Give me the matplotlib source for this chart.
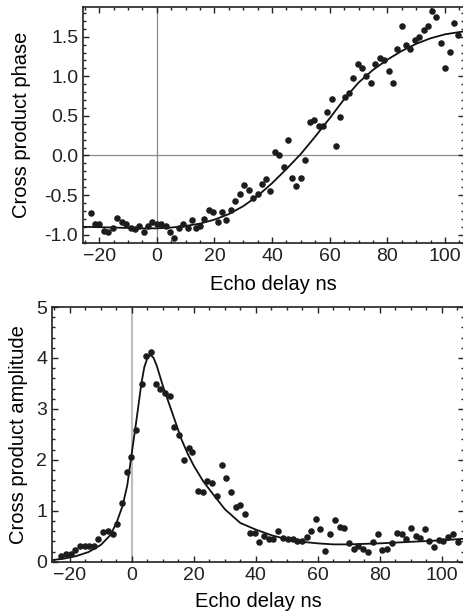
import numpy as np
import matplotlib
matplotlib.use("Agg")
from matplotlib import pyplot as plt
from matplotlib.ticker import MultipleLocator

plt.rcParams['font.family'] = ['Liberation Sans', 'DejaVu Sans']

# ---- phase panel: measured points ----
phase_x = [-22.8, -21.4, -19.9, -18.4, -16.8, -15.3, -13.7, -12.1, -10.6, -9.0,
           -7.5, -6.0, -4.5, -2.9, -1.5, 0.1, 1.6, 3.1, 4.6, 5.9,
           7.6, 9.1, 10.8, 12.1, 13.5, 15.1, 16.5, 18.1, 19.6, 21.3,
           22.8, 24.1, 25.8, 27.2, 28.8, 30.3, 31.9, 33.5, 35.0, 36.4,
           37.8, 39.4, 40.9, 42.5, 44.1, 45.6, 47.0, 48.3, 49.9, 51.4,
           53.3, 54.6, 56.4, 57.6, 59.0, 60.7, 62.1, 63.7, 65.2, 66.7,
           68.1, 69.8, 71.3, 72.7, 74.3, 75.8, 77.3, 78.8, 80.6, 82.0,
           83.2, 85.0, 86.4, 88.0, 89.5, 91.1, 92.6, 94.0, 95.5, 97.0,
           98.6, 100.0, 101.7, 103.0, 104.4]
phase_y = [-0.73, -0.86, -0.87, -0.95, -0.97, -0.92, -0.79, -0.84, -0.86, -0.91,
           -0.93, -0.89, -0.97, -0.89, -0.84, -0.86, -0.86, -0.89, -0.97, -1.04,
           -0.92, -0.86, -0.92, -0.82, -0.91, -0.89, -0.80, -0.69, -0.71, -0.84,
           -0.71, -0.82, -0.69, -0.57, -0.49, -0.37, -0.43, -0.54, -0.49, -0.36,
           -0.30, -0.45, 0.05, 0.01, -0.15, 0.20, -0.28, -0.39, -0.28, -0.06,
           0.42, 0.45, 0.37, 0.37, 0.55, 0.71, 0.12, 0.48, 0.74, 0.79,
           0.98, 1.15, 1.10, 1.01, 0.92, 1.15, 1.23, 1.21, 1.07, 0.91,
           1.35, 1.64, 1.40, 1.35, 1.46, 1.49, 1.59, 1.64, 1.83, 1.75,
           1.42, 1.11, 1.31, 1.67, 1.52]

# fitted curve
phase_fit_x = [-26, -20, -15, -10, -5, 0, 5, 10, 15, 20, 25, 30, 35, 40, 45,
               50, 55, 60, 65, 70, 75, 80, 85, 90, 95, 100, 107]
phase_fit_y = [-0.90, -0.905, -0.91, -0.915, -0.92, -0.92, -0.91, -0.89, -0.86,
               -0.81, -0.74, -0.64, -0.51, -0.35, -0.17, 0.02, 0.24, 0.47, 0.71,
               0.92, 1.08, 1.21, 1.32, 1.41, 1.48, 1.53, 1.57]

# ---- amplitude panel: measured points ----
amp_x = [-23.0, -21.4, -19.8, -18.3, -16.8, -15.2, -13.8, -12.3, -10.9, -9.3,
         -7.7, -6.2, -4.7, -3.1, -1.7, -0.2, 1.4, 3.1, 4.4, 6.0,
         7.7, 9.1, 10.8, 12.2, 13.6, 15.2, 16.7, 18.3, 19.5, 21.2,
         22.8, 24.3, 25.9, 27.4, 29.1, 30.4, 32.0, 33.7, 35.0, 36.5,
         38.2, 39.8, 41.1, 42.6, 44.2, 45.6, 47.2, 48.8, 50.3, 51.9,
         53.4, 55.0, 56.4, 57.9, 59.5, 60.8, 62.3, 63.9, 65.6, 67.1,
         68.6, 70.2, 71.6, 73.1, 74.7, 76.2, 77.7, 79.3, 80.8, 82.2,
         83.9, 85.5, 87.1, 88.5, 90.0, 91.6, 92.9, 94.6, 96.0, 97.4,
         99.0, 100.5, 102.0, 103.6, 105.2]
amp_y = [0.11, 0.15, 0.15, 0.22, 0.31, 0.31, 0.31, 0.31, 0.44, 0.59,
         0.60, 0.54, 0.74, 1.16, 1.76, 2.06, 2.59, 3.49, 4.04, 4.11,
         3.49, 3.39, 3.31, 3.26, 2.64, 2.49, 1.99, 2.23, 2.16, 1.39,
         1.36, 1.59, 1.54, 1.29, 1.89, 1.64, 1.36, 1.07, 1.11, 0.94,
         0.56, 0.56, 0.39, 0.51, 0.44, 0.44, 0.61, 0.46, 0.44, 0.44,
         0.41, 0.41, 0.49, 0.61, 0.83, 0.64, 0.21, 0.54, 0.81, 0.69,
         0.66, 0.36, 0.24, 0.31, 0.24, 0.19, 0.39, 0.54, 0.22, 0.24,
         0.36, 0.57, 0.54, 0.44, 0.66, 0.51, 0.46, 0.64, 0.41, 0.28,
         0.43, 0.41, 0.48, 0.54, 0.39]

amp_fit_x = [-26, -22, -18, -14, -10, -7, -5, -3, -1.5, 0, 1, 2, 3, 4, 5, 6, 7,
             8, 9, 10, 12, 14, 16, 18, 20, 23, 26, 30, 35, 40, 45, 50, 55, 60,
             65, 70, 80, 90, 100, 107]
amp_fit_y = [0.03, 0.06, 0.11, 0.19, 0.33, 0.52, 0.76, 1.1, 1.5, 2.15, 2.58,
             3.02, 3.48, 3.82, 4.0, 4.06, 4.0, 3.85, 3.65, 3.45, 3.1, 2.75, 2.4,
             2.12, 1.88, 1.58, 1.34, 1.03, 0.76, 0.63, 0.52, 0.44, 0.39, 0.36,
             0.34, 0.34, 0.36, 0.39, 0.42, 0.45]

FS_TICK = 14
FS_LABEL = 14.5
dot_color = '#1c1c1c'

fig = plt.figure(figsize=(4.64, 6.16), dpi=100)
ax1 = fig.add_axes([83 / 464, 1 - 243 / 616, (464 - 83) / 464, 236 / 616])
ax2 = fig.add_axes([52 / 464, 1 - 561.7 / 616, (464 - 52) / 464, 254.7 / 616])


def style(ax, ymajor, yminor):
    ax.xaxis.set_major_locator(MultipleLocator(20))
    ax.xaxis.set_minor_locator(MultipleLocator(5))
    ax.yaxis.set_major_locator(MultipleLocator(ymajor))
    ax.yaxis.set_minor_locator(MultipleLocator(yminor))
    ax.tick_params(which='both', direction='in', top=True, right=True,
                   labelsize=FS_TICK, width=1.0, colors='#222222', pad=3.5)
    ax.tick_params(which='major', length=4.5)
    ax.tick_params(which='minor', length=2.5)
    for s in ax.spines.values():
        s.set_linewidth(1.2)
        s.set_color('#222222')


# top panel
ax1.axvline(0, color='#8c8c8c', lw=0.9, zorder=1)
ax1.axhline(0, color='#8c8c8c', lw=0.9, zorder=1)
ax1.plot(phase_x, phase_y, 'o', ms=3.7, color=dot_color, zorder=3)
ax1.plot(phase_fit_x, phase_fit_y, '-', color='#111111', lw=1.3, zorder=2)
ax1.set_xlim(-25.6, 106.6)
ax1.set_ylim(-1.105, 1.875)
style(ax1, 0.5, 0.1)
ax1.yaxis.set_major_formatter(matplotlib.ticker.FormatStrFormatter('%.1f'))
ax1.set_xlabel('Echo delay ns', fontsize=FS_LABEL, labelpad=7)
ax1.set_ylabel('Cross product phase', fontsize=FS_LABEL, labelpad=10)

# bottom panel
ax2.axvline(0, color='#bdbdbd', lw=1.5, zorder=1)
ax2.plot(amp_x, amp_y, 'o', ms=3.7, color=dot_color, zorder=3)
ax2.plot(amp_fit_x, amp_fit_y, '-', color='#111111', lw=1.3, zorder=2)
ax2.set_xlim(-25.8, 107.2)
ax2.set_ylim(0, 5)
style(ax2, 1, 0.2)
ax2.set_xlabel('Echo delay ns', fontsize=FS_LABEL, labelpad=6)
ax2.set_ylabel('Cross product amplitude', fontsize=FS_LABEL, labelpad=6)

fig.savefig('out.png', dpi=100)
